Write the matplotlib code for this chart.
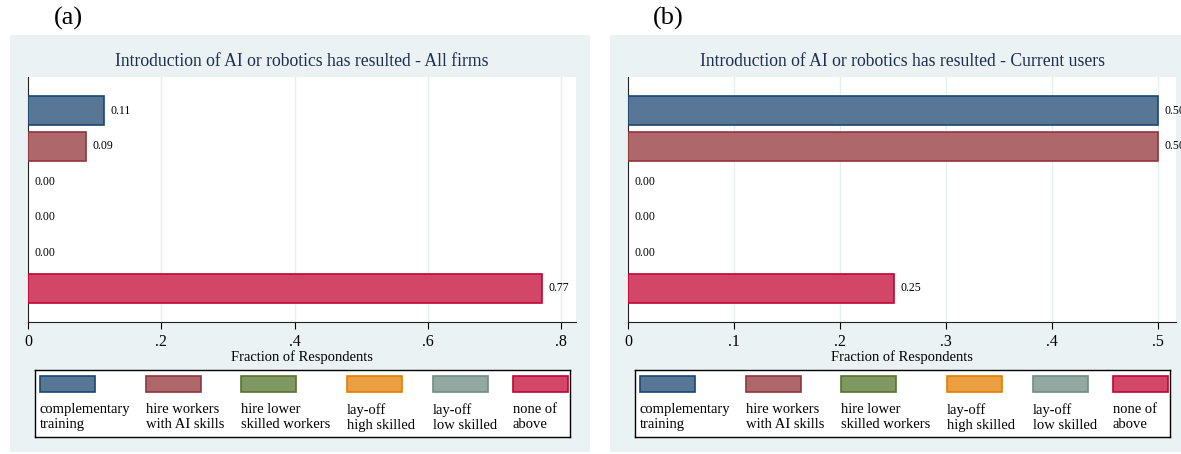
import matplotlib.pyplot as plt
from matplotlib.patches import Rectangle

plt.rcParams['font.family'] = ['Liberation Serif', 'DejaVu Serif']

# Data
categories = ['complementary\ntraining', 'hire workers\nwith AI skills',
              'hire lower\nskilled workers', 'lay-off\nhigh skilled',
              'lay-off\nlow skilled', 'none of\nabove']
all_firms = [0.114, 0.087, 0.00, 0.00, 0.00, 0.772]
current_users = [0.50, 0.50, 0.00, 0.00, 0.00, 0.251]

fills = ['#587695', '#AE686B', '#7F9760', '#EB9F40', '#93A8A0', '#D24767']
edges = ['#1A476F', '#90353B', '#55752F', '#E37E00', '#6E8E84', '#C10534']
bg = '#EAF2F3'
title_col = '#1E2D53'

W, H = 1181, 454
fig = plt.figure(figsize=(W / 100, H / 100), dpi=100)


def fx(px):
    return px / W


def fy(py):
    return 1 - py / H


panels = [
    dict(tag='(a)', title='Introduction of AI or robotics has resulted - All firms',
         vals=all_firms, bg=(10, 590), ax=(28, 576), xmax=0.8225,
         ticks=[0, 0.2, 0.4, 0.6, 0.8], tlabels=['0', '.2', '.4', '.6', '.8'],
         leg=(35, 570), tagx=68),
    dict(tag='(b)', title='Introduction of AI or robotics has resulted - Current users',
         vals=current_users, bg=(610, 1200), ax=(628, 1176), xmax=0.517,
         ticks=[0, 0.1, 0.2, 0.3, 0.4, 0.5], tlabels=['0', '.1', '.2', '.3', '.4', '.5'],
         leg=(635, 1170), tagx=668),
]

leg_cols = [0.009, 0.207, 0.385, 0.583, 0.744, 0.893]
sw_w = 0.103

for p in panels:
    # panel background
    x0, x1 = p['bg']
    fig.patches.append(Rectangle((fx(x0), fy(452)), fx(x1) - fx(x0), fy(35) - fy(452),
                                 transform=fig.transFigure, facecolor=bg,
                                 edgecolor='none', zorder=-1))
    fig.text(fx(p['tagx']), fy(18), p['tag'], ha='center', va='center', fontsize=19)

    a0, a1 = p['ax']
    ax = fig.add_axes([fx(a0), fy(322), fx(a1) - fx(a0), fy(77) - fy(322)])
    ax.set_facecolor('white')
    ypos = list(range(len(p['vals'])))
    lws = [1.2 if v > 0 else 0 for v in p['vals']]
    ax.barh(ypos, p['vals'], height=0.83, color=fills, edgecolor=edges,
            linewidth=lws, zorder=3)
    for y, v in zip(ypos, p['vals']):
        ax.text(v + p['xmax'] * 0.012, y, f'{v:.2f}', va='center', ha='left',
                fontsize=8.5, clip_on=False, zorder=4)
    ax.set_ylim(5.95, -0.95)
    ax.set_xlim(0, p['xmax'])
    ax.set_xticks(p['ticks'])
    ax.set_xticklabels(p['tlabels'], fontsize=11.5)
    ax.set_yticks([])
    for t in p['ticks'][1:]:
        ax.axvline(t, color='#E6EEF0', lw=1, zorder=1)
    for s in ['top', 'right']:
        ax.spines[s].set_visible(False)
    ax.spines['left'].set_color('#222222')
    ax.spines['bottom'].set_color('#222222')
    ax.tick_params(axis='x', direction='out', length=5, width=0.8, pad=4)
    ax.set_xlabel('Fraction of Respondents', fontsize=10.5, labelpad=0)
    ax.set_title(p['title'], fontsize=12.7, color=title_col, pad=8)

    # legend box
    l0, l1 = p['leg']
    lax = fig.add_axes([fx(l0), fy(437), fx(l1) - fx(l0), fy(370) - fy(437)])
    lax.set_xlim(0, 1)
    lax.set_ylim(0, 1)
    lax.set_xticks([])
    lax.set_yticks([])
    for s in lax.spines.values():
        s.set_color('black')
        s.set_linewidth(1.0)
    for cx, lab, fc, ec in zip(leg_cols, categories, fills, edges):
        lax.add_patch(Rectangle((cx, 1 - 22 / 67), sw_w, 16 / 67, facecolor=fc,
                                edgecolor=ec, linewidth=1.2))
        lax.text(cx, 1 - 33 / 67, lab, ha='left', va='top', fontsize=10.5,
                 linespacing=1.2)

fig.savefig('out.png', dpi=100)
